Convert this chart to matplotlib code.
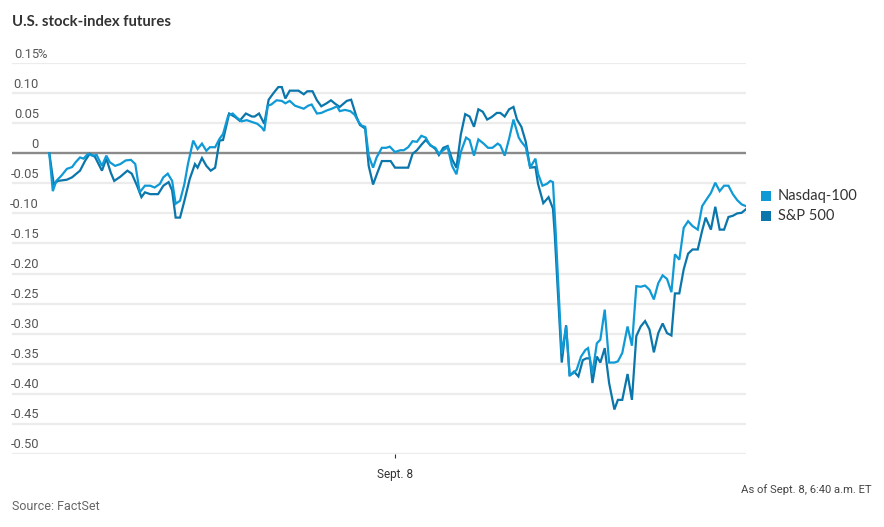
import matplotlib
matplotlib.use("Agg")
import matplotlib.pyplot as plt
from matplotlib import font_manager
from matplotlib.patches import Rectangle
import matplotlib.transforms as mtransforms

# minutes relative to midnight Sept. 8 (ET) and % change
nasdaq_min = [-394, -390, -386, -380, -374, -368, -364, -359, -355, -350, -345, -340, -334, -329,
              -325, -319, -313, -307, -301, -296, -291, -285, -279, -274, -268, -264, -259, -254,
              -250, -245, -240, -236, -230, -225, -220, -215, -211, -205, -200, -196, -190, -185,
              -180, -175, -169, -163, -157, -152, -149, -145, -141, -135, -129, -125, -120, -114,
              -104, -99, -95, -89, -84, -78, -72, -66, -63, -57, -51, -46, -42, -38, -34, -30,
              -25, -21, -15, -10, -6, 0, 6, 10, 15, 20, 25, 30, 35, 40, 46, 50, 55, 60, 65, 70,
              75, 81, 85, 90, 95, 101, 106, 111, 117, 120, 125, 130, 135, 141, 144, 149, 154,
              160, 163, 168, 173, 177, 180, 183, 190, 195, 199, 203, 207, 212, 217, 220, 225,
              230, 234, 239, 244, 250, 254, 259, 265, 270, 275, 280, 285, 290, 295, 300, 305,
              310, 315, 319, 324, 329, 334, 339, 345, 350, 354, 360, 365, 370, 375, 380, 385,
              390, 395, 400]
nasdaq_chg = [0.0, -0.063, -0.046, -0.037, -0.026, -0.023, -0.015, -0.007, -0.009, -0.001, -0.004,
              -0.003, -0.021, -0.004, -0.015, -0.021, -0.018, -0.012, -0.011, -0.018, -0.065,
              -0.054, -0.054, -0.057, -0.051, -0.040, -0.034, -0.046, -0.084, -0.079, -0.051,
              -0.018, 0.021, 0.007, 0.016, 0.004, 0.010, 0.010, 0.024, 0.032, 0.063, 0.066,
              0.059, 0.053, 0.055, 0.052, 0.049, 0.043, 0.037, 0.079, 0.081, 0.088, 0.087,
              0.083, 0.087, 0.079, 0.074, 0.079, 0.081, 0.066, 0.067, 0.071, 0.074, 0.078,
              0.070, 0.072, 0.070, 0.064, 0.053, 0.046, 0.044, -0.004, -0.024, -0.007, 0.009,
              0.009, 0.011, 0.002, 0.005, 0.005, 0.010, 0.020, 0.019, 0.029, 0.026, 0.013,
              0.009, -0.001, 0.005, 0.010, -0.021, -0.035, 0.002, 0.026, 0.022, -0.004, 0.023,
              0.016, 0.009, 0.009, 0.016, 0.013, -0.004, 0.024, 0.056, 0.026, 0.019, 0.010,
              -0.024, -0.009, -0.034, -0.054, -0.051, -0.046, -0.048, -0.128, -0.333, -0.288,
              -0.369, -0.366, -0.360, -0.338, -0.327, -0.324, -0.366, -0.316, -0.310, -0.260,
              -0.348, -0.348, -0.346, -0.332, -0.288, -0.320, -0.221, -0.222, -0.220, -0.227,
              -0.243, -0.216, -0.203, -0.209, -0.231, -0.168, -0.177, -0.124, -0.113, -0.121,
              -0.127, -0.088, -0.079, -0.066, -0.049, -0.063, -0.054, -0.054, -0.068, -0.078,
              -0.085, -0.088]

sp_min = [-394, -389, -384, -374, -368, -363, -359, -353, -348, -342, -334, -329, -324, -320,
          -313, -305, -300, -294, -289, -285, -279, -270, -264, -258, -254, -250, -245, -240,
          -234, -228, -225, -220, -215, -210, -205, -200, -196, -189, -182, -177, -170, -163,
          -160, -155, -149, -144, -139, -133, -129, -125, -120, -110, -104, -100, -94, -89,
          -84, -78, -73, -68, -63, -59, -55, -50, -44, -40, -34, -30, -25, -20, -15, -9, -5,
          0, 6, 15, 20, 25, 30, 35, 40, 46, 50, 55, 60, 65, 70, 75, 80, 85, 90, 95, 100, 105,
          110, 116, 120, 125, 130, 135, 139, 144, 149, 154, 160, 163, 169, 175, 180, 182, 190,
          195, 199, 204, 209, 214, 218, 222, 225, 230, 234, 239, 244, 250, 254, 259, 265, 270,
          275, 280, 285, 290, 295, 300, 305, 310, 315, 319, 324, 329, 334, 339, 345, 350, 354,
          360, 365, 370, 375, 380, 385, 390, 395, 400]
sp_chg = [0.0, -0.051, -0.046, -0.044, -0.040, -0.034, -0.029, -0.012, -0.001, -0.006, -0.029,
          -0.009, -0.032, -0.046, -0.039, -0.029, -0.034, -0.054, -0.073, -0.065, -0.068, -0.068,
          -0.054, -0.048, -0.062, -0.107, -0.107, -0.079, -0.043, -0.018, -0.024, -0.008, -0.021,
          -0.029, -0.024, 0.021, 0.022, 0.066, 0.060, 0.054, 0.066, 0.061, 0.061, 0.066, 0.049,
          0.089, 0.099, 0.110, 0.110, 0.091, 0.104, 0.104, 0.098, 0.103, 0.103, 0.088, 0.078,
          0.083, 0.088, 0.082, 0.077, 0.082, 0.087, 0.089, 0.061, 0.047, 0.041, -0.021, -0.052,
          -0.032, -0.013, -0.013, -0.013, -0.024, -0.024, -0.024, -0.001, 0.005, 0.014, 0.022,
          0.014, 0.007, -0.003, 0.009, 0.012, -0.010, -0.024, 0.031, 0.065, 0.061, 0.044,
          0.073, 0.069, 0.056, 0.060, 0.067, 0.067, 0.061, 0.073, 0.077, 0.056, 0.044, 0.019,
          -0.024, -0.023, -0.051, -0.083, -0.073, -0.092, -0.134, -0.348, -0.286, -0.370,
          -0.363, -0.371, -0.344, -0.341, -0.341, -0.382, -0.338, -0.348, -0.324, -0.382,
          -0.426, -0.410, -0.410, -0.367, -0.410, -0.304, -0.288, -0.279, -0.293, -0.331,
          -0.299, -0.283, -0.299, -0.303, -0.233, -0.233, -0.193, -0.167, -0.160, -0.160,
          -0.129, -0.107, -0.127, -0.089, -0.127, -0.127, -0.106, -0.104, -0.100, -0.099,
          -0.093]

series_names = ["Nasdaq-100", "S&P 500"]
series_colors = ["#0f9ad6", "#0b76ab"]
ytick_vals = [0.15, 0.10, 0.05, 0, -0.05, -0.10, -0.15, -0.20, -0.25, -0.30, -0.35, -0.40, -0.45, -0.50]
ytick_text = ["0.15", "0.10", "0.05", "0", "-0.05", "-0.10", "-0.15", "-0.20", "-0.25", "-0.30",
              "-0.35", "-0.40", "-0.45", "-0.50"]

names = {f.name for f in font_manager.fontManager.ttflist}
narrow = "Liberation Sans Narrow" if "Liberation Sans Narrow" in names else "Roboto"
plt.rcParams['font.family'] = ["Lato", "DejaVu Sans"]

fig = plt.figure(figsize=(8.84, 5.27), dpi=100)
W, H = 884, 527
ax = fig.add_axes([12 / W, 1 - 454 / H, 734 / W, 391 / H])
ax.set_xlim(-436.5, 400)
ax.set_ylim(-0.5, 0.15)
for s in ax.spines.values():
    s.set_visible(False)

for v in ytick_vals:
    if v == 0:
        ax.axhline(v, color="#8a8a8a", lw=1.7, zorder=3)
    else:
        ax.axhline(v, color="#ececec", lw=1.6, zorder=1)

ax.plot(sp_min, sp_chg, color=series_colors[1], lw=1.6, zorder=4, solid_joinstyle="miter")
ax.plot(nasdaq_min, nasdaq_chg, color=series_colors[0], lw=1.6, zorder=5, solid_joinstyle="miter")

# y labels sit just above their gridlines
base = mtransforms.blended_transform_factory(ax.transAxes, ax.transData)
trans = mtransforms.offset_copy(base, fig=fig, x=0, y=2.5, units="dots")
trans_pct = mtransforms.offset_copy(base, fig=fig, x=-1.5, y=2.5, units="dots")
lx = 27 / 734
for v, t in zip(ytick_vals, ytick_text):
    ax.text(lx, v, t, transform=trans, ha="right", va="bottom", fontsize=9.3,
            color="#555555", family=narrow)
ax.text(lx, 0.15, "%", transform=trans_pct, ha="left", va="bottom", fontsize=9.3,
        color="#555555", family=narrow)

ax.set_yticks([])
ax.set_xticks([0])
ax.set_xticklabels(["Sept. 8"], family=narrow, fontsize=8.5, color="#333333")
ax.tick_params(axis="x", length=3, width=0.8, color="#333333", pad=7)

fig.text(12 / W, 1 - 22 / H, "U.S. stock-index futures", fontsize=10.7, fontweight="bold",
         color="#333333", va="center", ha="left")
fig.text(872 / W, 1 - 490 / H, "As of Sept. 8, 6:40 a.m. ET", fontsize=8.1, color="#444444",
         va="center", ha="right", family=narrow)
fig.text(12 / W, 1 - 507 / H, "Source: FactSet", fontsize=9, color="#666666",
         va="center", ha="left", family=narrow)

# legend squares
for i, (name, c) in enumerate(zip(series_names, series_colors)):
    yc = 196 + 20 * i
    fig.add_artist(Rectangle((761 / W, 1 - (yc + 5) / H), 10 / W, 10 / H,
                             transform=fig.transFigure, color=c, lw=0))
    fig.text(778 / W, 1 - yc / H, name, fontsize=10.5, color="#333333", va="center", ha="left")

fig.savefig("out.png", dpi=100)
